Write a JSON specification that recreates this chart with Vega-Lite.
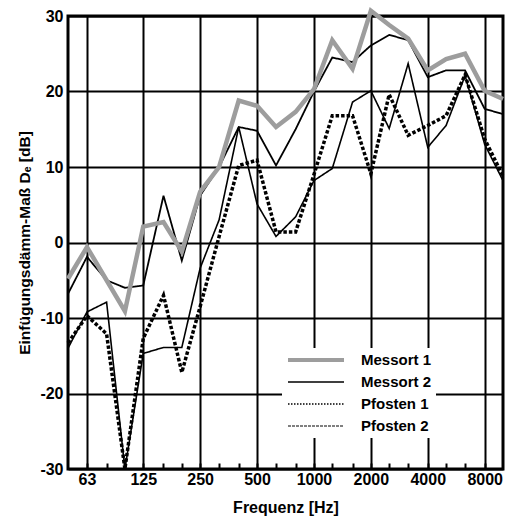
{
  "$schema": "https://vega.github.io/schema/vega-lite/v6.json",
  "width": 435,
  "height": 453,
  "autosize": {"type": "none"},
  "padding": {"left": 68, "top": 16, "right": 2, "bottom": 47},
  "background": "white",
  "config": {
    "view": {"stroke": "black", "strokeWidth": 3},
    "font": "Liberation Sans",
    "axis": {
      "labelFont": "Liberation Sans", "labelFontSize": 16, "labelFontWeight": "bold", "labelColor": "black",
      "titleFont": "Liberation Sans", "titleFontSize": 16, "titleFontWeight": "bold", "titleColor": "black",
      "domain": false, "gridColor": "black", "gridWidth": 2, "gridOpacity": 1
    }
  },
  "data": {"values": [
    {"series": "Messort 1", "freq": 50, "value": -4.8},
    {"series": "Messort 1", "freq": 63, "value": -0.6},
    {"series": "Messort 1", "freq": 80, "value": -5},
    {"series": "Messort 1", "freq": 100, "value": -9.1},
    {"series": "Messort 1", "freq": 125, "value": 2.1},
    {"series": "Messort 1", "freq": 160, "value": 2.7},
    {"series": "Messort 1", "freq": 200, "value": -1.2},
    {"series": "Messort 1", "freq": 250, "value": 6.7},
    {"series": "Messort 1", "freq": 315, "value": 10},
    {"series": "Messort 1", "freq": 400, "value": 18.8},
    {"series": "Messort 1", "freq": 500, "value": 18.1},
    {"series": "Messort 1", "freq": 630, "value": 15.3},
    {"series": "Messort 1", "freq": 800, "value": 17.3},
    {"series": "Messort 1", "freq": 1000, "value": 20.3},
    {"series": "Messort 1", "freq": 1250, "value": 26.8},
    {"series": "Messort 1", "freq": 1600, "value": 23.0},
    {"series": "Messort 1", "freq": 2000, "value": 30.7},
    {"series": "Messort 1", "freq": 2500, "value": 28.8},
    {"series": "Messort 1", "freq": 3150, "value": 27.0},
    {"series": "Messort 1", "freq": 4000, "value": 22.8},
    {"series": "Messort 1", "freq": 5000, "value": 24.3},
    {"series": "Messort 1", "freq": 6300, "value": 25.0},
    {"series": "Messort 1", "freq": 8000, "value": 20.1},
    {"series": "Messort 1", "freq": 10000, "value": 19.0},
    {"series": "Messort 2", "freq": 50, "value": -6.8},
    {"series": "Messort 2", "freq": 63, "value": -1.9},
    {"series": "Messort 2", "freq": 80, "value": -5.0},
    {"series": "Messort 2", "freq": 100, "value": -6.0},
    {"series": "Messort 2", "freq": 125, "value": -5.7},
    {"series": "Messort 2", "freq": 160, "value": 6.2},
    {"series": "Messort 2", "freq": 200, "value": -2.4},
    {"series": "Messort 2", "freq": 250, "value": 6.2},
    {"series": "Messort 2", "freq": 315, "value": 10},
    {"series": "Messort 2", "freq": 400, "value": 15.3},
    {"series": "Messort 2", "freq": 500, "value": 14.8},
    {"series": "Messort 2", "freq": 630, "value": 10.2},
    {"series": "Messort 2", "freq": 800, "value": 15},
    {"series": "Messort 2", "freq": 1000, "value": 20},
    {"series": "Messort 2", "freq": 1250, "value": 24.5},
    {"series": "Messort 2", "freq": 1600, "value": 23.9},
    {"series": "Messort 2", "freq": 2000, "value": 26.1},
    {"series": "Messort 2", "freq": 2500, "value": 27.5},
    {"series": "Messort 2", "freq": 3150, "value": 26.8},
    {"series": "Messort 2", "freq": 4000, "value": 21.9},
    {"series": "Messort 2", "freq": 5000, "value": 22.8},
    {"series": "Messort 2", "freq": 6300, "value": 22.8},
    {"series": "Messort 2", "freq": 8000, "value": 17.7},
    {"series": "Messort 2", "freq": 10000, "value": 17.0},
    {"series": "Pfosten 1", "freq": 50, "value": -13.3},
    {"series": "Pfosten 1", "freq": 63, "value": -9.7},
    {"series": "Pfosten 1", "freq": 80, "value": -12.1},
    {"series": "Pfosten 1", "freq": 100, "value": -30},
    {"series": "Pfosten 1", "freq": 125, "value": -12.7},
    {"series": "Pfosten 1", "freq": 160, "value": -7.0},
    {"series": "Pfosten 1", "freq": 200, "value": -17.2},
    {"series": "Pfosten 1", "freq": 250, "value": -8.5},
    {"series": "Pfosten 1", "freq": 315, "value": 0.8},
    {"series": "Pfosten 1", "freq": 400, "value": 10.2},
    {"series": "Pfosten 1", "freq": 500, "value": 10.9},
    {"series": "Pfosten 1", "freq": 630, "value": 1.4},
    {"series": "Pfosten 1", "freq": 800, "value": 1.4},
    {"series": "Pfosten 1", "freq": 1000, "value": 9},
    {"series": "Pfosten 1", "freq": 1250, "value": 16.8},
    {"series": "Pfosten 1", "freq": 1600, "value": 16.8},
    {"series": "Pfosten 1", "freq": 2000, "value": 9.1},
    {"series": "Pfosten 1", "freq": 2500, "value": 19.6},
    {"series": "Pfosten 1", "freq": 3150, "value": 14.2},
    {"series": "Pfosten 1", "freq": 4000, "value": 15.5},
    {"series": "Pfosten 1", "freq": 5000, "value": 16.8},
    {"series": "Pfosten 1", "freq": 6300, "value": 22.2},
    {"series": "Pfosten 1", "freq": 8000, "value": 13.7},
    {"series": "Pfosten 1", "freq": 10000, "value": 8.8},
    {"series": "Pfosten 2", "freq": 50, "value": -14},
    {"series": "Pfosten 2", "freq": 63, "value": -9.2},
    {"series": "Pfosten 2", "freq": 80, "value": -7.9},
    {"series": "Pfosten 2", "freq": 100, "value": -30},
    {"series": "Pfosten 2", "freq": 125, "value": -14.7},
    {"series": "Pfosten 2", "freq": 160, "value": -13.9},
    {"series": "Pfosten 2", "freq": 200, "value": -13.9},
    {"series": "Pfosten 2", "freq": 250, "value": -3.4},
    {"series": "Pfosten 2", "freq": 315, "value": 3},
    {"series": "Pfosten 2", "freq": 400, "value": 15.3},
    {"series": "Pfosten 2", "freq": 500, "value": 5.1},
    {"series": "Pfosten 2", "freq": 630, "value": 0.8},
    {"series": "Pfosten 2", "freq": 800, "value": 3.4},
    {"series": "Pfosten 2", "freq": 1000, "value": 8.2},
    {"series": "Pfosten 2", "freq": 1250, "value": 9.8},
    {"series": "Pfosten 2", "freq": 1600, "value": 18.6},
    {"series": "Pfosten 2", "freq": 2000, "value": 20.1},
    {"series": "Pfosten 2", "freq": 2500, "value": 15.1},
    {"series": "Pfosten 2", "freq": 3150, "value": 23.7},
    {"series": "Pfosten 2", "freq": 4000, "value": 12.6},
    {"series": "Pfosten 2", "freq": 5000, "value": 15.5},
    {"series": "Pfosten 2", "freq": 6300, "value": 22.1},
    {"series": "Pfosten 2", "freq": 8000, "value": 13.0},
    {"series": "Pfosten 2", "freq": 10000, "value": 8.2}
  ]},
  "encoding": {
    "x": {
      "field": "freq", "type": "quantitative",
      "scale": {"type": "log", "domain": [50, 10000], "nice": false},
      "axis": {
        "title": "Frequenz [Hz]",
        "values": [63, 80, 100, 125, 160, 200, 250, 315, 400, 500, 630, 800, 1000, 1250, 1600, 2000, 2500, 3150, 4000, 5000, 6300, 8000],
        "labelExpr": "indexof([63,125,250,500,1000,2000,4000,8000], datum.value) >= 0 ? format(datum.value, 'd') : ''",
        "gridOpacity": {"condition": {"test": "indexof([63,125,250,500,1000,2000,4000,8000], datum.value) >= 0", "value": 1}, "value": 0},
        "ticks": true, "tickSize": -6, "tickWidth": 2, "tickColor": "black",
        "labelPadding": 8, "titlePadding": 12, "labelFlush": false, "labelOverlap": false
      }
    },
    "y": {
      "field": "value", "type": "quantitative",
      "scale": {"domain": [-30, 30], "nice": false},
      "axis": {
        "title": "Einfügungsdämm-Maß Dₑ [dB]",
        "titleFontSize": 15.5,
        "values": [-30, -20, -10, 0, 10, 20, 30],
        "labelExpr": "datum.value < 0 ? '-' + abs(datum.value) : '' + datum.value",
        "ticks": false, "labelPadding": 5, "titlePadding": 7
      }
    }
  },
  "layer": [
    {
      "transform": [{"filter": "datum.series !== 'Messort 1'"}],
      "mark": {"type": "line"},
      "encoding": {
        "color": {"field": "series", "type": "nominal", "legend": null,
          "scale": {"domain": ["Messort 1", "Messort 2", "Pfosten 1", "Pfosten 2"], "range": ["#9d9d9d", "#000000", "#000000", "#000000"]}},
        "strokeWidth": {"field": "series", "type": "nominal", "legend": null,
          "scale": {"type": "ordinal", "domain": ["Messort 1", "Messort 2", "Pfosten 1", "Pfosten 2"], "range": [4.5, 1.8, 3.5, 1.6]}},
        "strokeDash": {"field": "series", "type": "nominal", "legend": null,
          "scale": {"domain": ["Messort 1", "Messort 2", "Pfosten 1", "Pfosten 2"], "range": [[1, 0], [1, 0], [3.5, 2], [1, 0]]}}
      }
    },
    {
      "transform": [{"filter": "datum.series === 'Messort 1'"}],
      "mark": {"type": "line"},
      "encoding": {
        "color": {"field": "series", "type": "nominal", "legend": null,
          "scale": {"domain": ["Messort 1", "Messort 2", "Pfosten 1", "Pfosten 2"], "range": ["#9d9d9d", "#000000", "#000000", "#000000"]}},
        "strokeWidth": {"field": "series", "type": "nominal", "legend": null,
          "scale": {"type": "ordinal", "domain": ["Messort 1", "Messort 2", "Pfosten 1", "Pfosten 2"], "range": [4.5, 1.8, 3.5, 1.6]}}
      }
    },
    {
      "transform": [{"filter": "false"}],
      "mark": {"type": "line"},
      "encoding": {
        "color": {"field": "series", "type": "nominal",
          "scale": {"domain": ["Messort 1", "Messort 2", "Pfosten 1", "Pfosten 2"], "range": ["#9d9d9d", "#000000", "#000000", "#000000"]},
          "legend": {
            "orient": "none", "legendX": 214, "legendY": 332, "title": null,
            "symbolType": "stroke", "symbolSize": 3136, "clipHeight": 16, "rowPadding": 6,
            "labelOffset": 15, "labelFont": "Liberation Sans", "labelFontSize": 15, "labelFontWeight": "bold", "labelColor": "black",
            "fillColor": "white", "padding": 4
          }
        },
        "strokeWidth": {"field": "series", "type": "nominal",
          "scale": {"type": "ordinal", "domain": ["Messort 1", "Messort 2", "Pfosten 1", "Pfosten 2"], "range": [4, 1.5, 1.3, 1.0]}},
        "strokeDash": {"field": "series", "type": "nominal",
          "scale": {"domain": ["Messort 1", "Messort 2", "Pfosten 1", "Pfosten 2"], "range": [[1, 0], [1, 0], [1.5, 1.5], [3, 1]]}}
      }
    }
  ],
  "resolve": {"scale": {"color": "independent", "strokeWidth": "independent", "strokeDash": "independent"}}
}
